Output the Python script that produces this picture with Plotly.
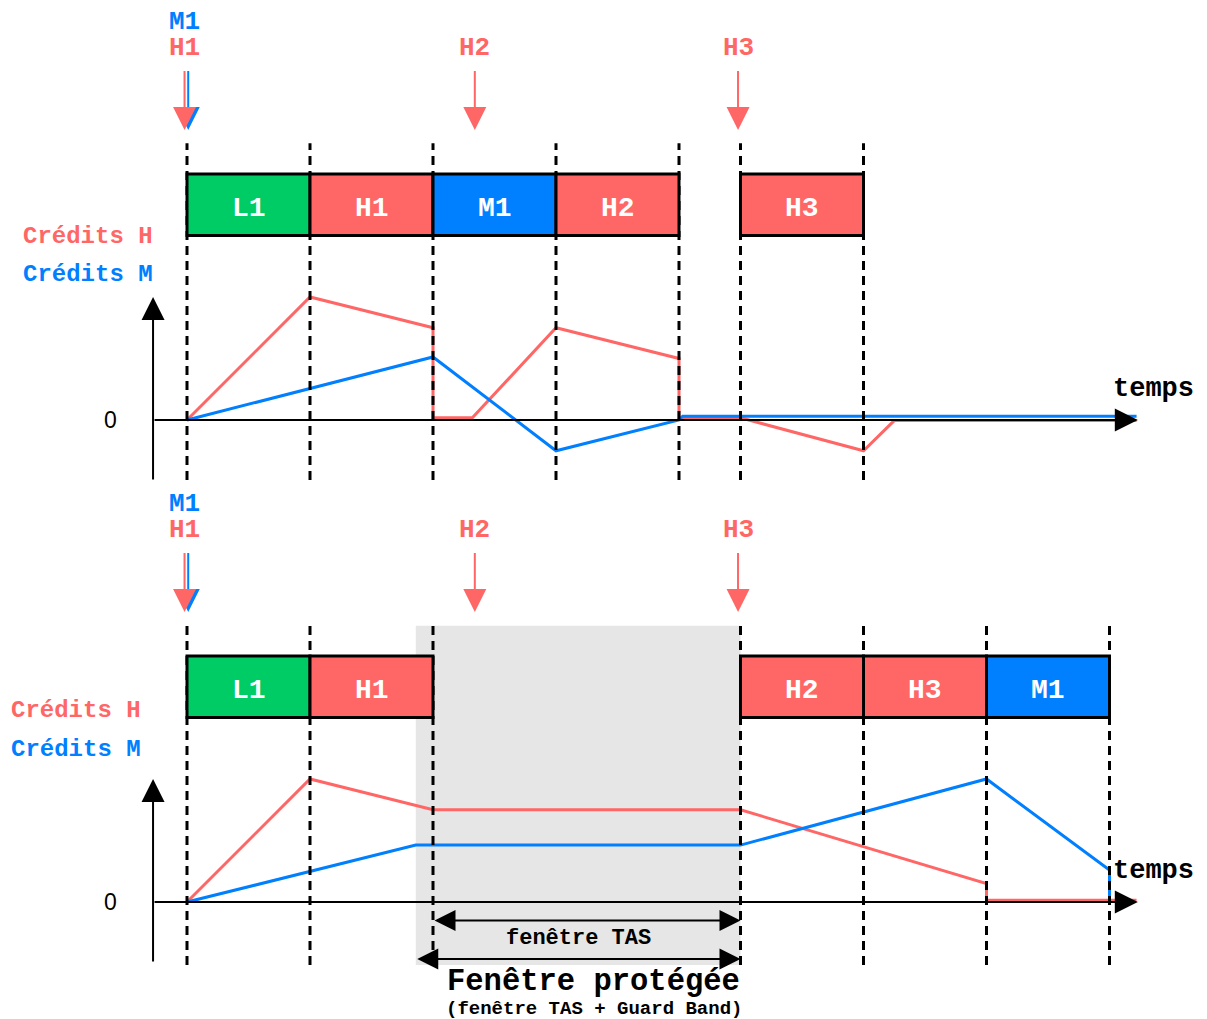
import plotly.graph_objects as go

# ---------------- data ----------------
# time in slot units (t=0 : first slot start), credits in arbitrary units
top_slot_labels = ["L1", "H1", "M1", "H2", "H3"]
top_slot_start = [0, 1, 2, 3, 4.5]
top_slot_end = [1, 2, 3, 4, 5.5]
top_slot_class = ["L", "H", "M", "H", "H"]
top_boundaries = [0, 1, 2, 3, 4, 4.5, 5.5]

bot_slot_labels = ["L1", "H1", "H2", "H3", "M1"]
bot_slot_start = [0, 1, 4.5, 5.5, 6.5]
bot_slot_end = [1, 2, 5.5, 6.5, 7.5]
bot_slot_class = ["L", "H", "H", "H", "M"]
bot_boundaries = [0, 1, 2, 4.5, 5.5, 6.5, 7.5]

# arrivals (frame arrival time)
arr_h_labels = ["H1", "H2", "H3"]
arr_h_t = [-0.02, 2.34, 4.48]
arr_m_labels = ["M1"]
arr_m_t = [0.01]

# credits, top scenario
top_h_t = [0, 1, 2, 2, 2.32, 3, 4, 4, 4.5, 5.5, 5.75, 7.72]
top_h_v = [0, 4, 3, 0.07, 0.07, 3, 2, 0.07, 0.07, -1, -0.02, -0.02]
top_m_t = [0, 2, 3, 4, 4.03, 7.72]
top_m_v = [0, 2.05, -1, 0.0, 0.12, 0.12]

# credits, bottom scenario
bot_h_t = [0, 1, 2, 4.5, 6.5, 6.5, 7.72]
bot_h_v = [0, 4, 3, 3, 0.6, 0.06, 0.06]
bot_m_t = [0, 1.86, 4.5, 6.5, 7.5, 7.5]
bot_m_v = [0, 1.85, 1.85, 4, 1.04, 0.05]

# protected window (guard band + TAS window)
guard_start = 1.86
tas_start = 2
tas_end = 4.5

# ---------------- layout constants ----------------
W, H = 1207, 1019
PX_PER_T = 123.0
T0_PX = 187.0
PX_PER_U = 30.75
ZERO_TOP_PX = 420.0
ZERO_BOT_PX = 902.0

RED = "#FF6666"
BLUE = "#007FFF"
GREEN = "#00CC66"
GREY = "#E6E6E6"
MONO = "Courier New, Liberation Mono, monospace"
SANS = "Arial, Liberation Sans, sans-serif"
CLASS_COLOR = {"L": GREEN, "H": RED, "M": BLUE}
HEAD = dict(arrowhead=2, arrowsize=2.3, arrowwidth=2, standoff=0)

x_range = [-T0_PX / PX_PER_T, (W - T0_PX) / PX_PER_T]
span_u = H / PX_PER_U
y_top_range = [ZERO_TOP_PX / PX_PER_U - span_u, ZERO_TOP_PX / PX_PER_U]
y_bot_range = [ZERO_BOT_PX / PX_PER_U - span_u, ZERO_BOT_PX / PX_PER_U]

fig = go.Figure()

fig.add_trace(go.Scatter(x=top_h_t, y=top_h_v, mode="lines", line=dict(color=RED, width=3), yaxis="y", hoverinfo="skip"))
fig.add_trace(go.Scatter(x=top_m_t, y=top_m_v, mode="lines", line=dict(color=BLUE, width=3), yaxis="y", hoverinfo="skip"))
fig.add_trace(go.Scatter(x=bot_h_t, y=bot_h_v, mode="lines", line=dict(color=RED, width=3), yaxis="y2", hoverinfo="skip"))
fig.add_trace(go.Scatter(x=bot_m_t, y=bot_m_v, mode="lines", line=dict(color=BLUE, width=3), yaxis="y2", hoverinfo="skip"))

shapes = []
annotations = []

# grey protected window
shapes.append(dict(type="rect", xref="x", yref="y2", x0=guard_start, x1=tas_end, y0=-2.05, y1=8.98,
                   fillcolor=GREY, line=dict(width=0), layer="below"))


def panel(yref, boundaries, labels, starts, ends, classes, dash_top, dash_bot):
    for b in boundaries:
        shapes.append(dict(type="line", xref="x", yref=yref, x0=b, x1=b, y0=dash_bot, y1=dash_top,
                           line=dict(color="black", width=3, dash="9px,6px"), layer="above"))
    for lab, s, e, c in zip(labels, starts, ends, classes):
        shapes.append(dict(type="rect", xref="x", yref=yref, x0=s, x1=e, y0=6, y1=8,
                           fillcolor=CLASS_COLOR[c], line=dict(color="black", width=3), layer="above"))
        annotations.append(dict(x=(s + e) / 2, y=6.87, xref="x", yref=yref, text="<b>%s</b>" % lab,
                                showarrow=False, font=dict(family=MONO, size=28, color="white")))
    # axes arrows
    annotations.append(dict(x=7.73, y=0, ax=-0.276, ay=0, xref="x", yref=yref, axref="x", ayref=yref,
                            text="", showarrow=True, arrowcolor="black", **HEAD))
    annotations.append(dict(x=-0.276, y=4.0, ax=-0.276, ay=-1.98, xref="x", yref=yref, axref="x", ayref=yref,
                            text="", showarrow=True, arrowcolor="black", **HEAD))
    annotations.append(dict(x=-0.626, y=0, xref="x", yref=yref, text="0", showarrow=False,
                            font=dict(family=SANS, size=23, color="black")))
    annotations.append(dict(x=7.86, y=1.0, xref="x", yref=yref, text="<b>temps</b>", showarrow=False,
                            font=dict(family=MONO, size=27, color="black")))
    # arrivals
    for lab, t in zip(arr_m_labels, arr_m_t):
        annotations.append(dict(x=t, y=9.43, ax=t, ay=11.4, xref="x", yref=yref, axref="x", ayref=yref,
                                text="", showarrow=True, arrowcolor=BLUE, **HEAD))
        annotations.append(dict(x=-0.02, y=12.95, xref="x", yref=yref, text="<b>%s</b>" % lab, showarrow=False,
                                font=dict(family=MONO, size=26, color=BLUE)))
    for lab, t in zip(arr_h_labels, arr_h_t):
        annotations.append(dict(x=t, y=9.43, ax=t, ay=11.4, xref="x", yref=yref, axref="x", ayref=yref,
                                text="", showarrow=True, arrowcolor=RED, **HEAD))
        annotations.append(dict(x=t, y=12.1, xref="x", yref=yref, text="<b>%s</b>" % lab, showarrow=False,
                                font=dict(family=MONO, size=26, color=RED)))


panel("y", top_boundaries, top_slot_labels, top_slot_start, top_slot_end, top_slot_class, 9.0, -1.95)
panel("y2", bot_boundaries, bot_slot_labels, bot_slot_start, bot_slot_end, bot_slot_class, 8.98, -2.05)

# credit labels
annotations.append(dict(x=-0.26, y=5.96, xref="x", yref="y", xanchor="right", text="<b>Crédits H</b>",
                        showarrow=False, font=dict(family=MONO, size=24, color=RED)))
annotations.append(dict(x=-0.26, y=4.74, xref="x", yref="y", xanchor="right", text="<b>Crédits M</b>",
                        showarrow=False, font=dict(family=MONO, size=24, color=BLUE)))
annotations.append(dict(x=-0.36, y=6.22, xref="x", yref="y2", xanchor="right", text="<b>Crédits H</b>",
                        showarrow=False, font=dict(family=MONO, size=24, color=RED)))
annotations.append(dict(x=-0.36, y=4.97, xref="x", yref="y2", xanchor="right", text="<b>Crédits M</b>",
                        showarrow=False, font=dict(family=MONO, size=24, color=BLUE)))

# TAS window & protected window
annotations.append(dict(x=tas_end, y=-0.6, ax=tas_start, ay=-0.6, xref="x", yref="y2", axref="x", ayref="y2",
                        text="", showarrow=True, arrowhead=2, startarrowhead=2, arrowside="end+start",
                        arrowsize=2.1, startarrowsize=2.1, arrowwidth=2, arrowcolor="black",
                        standoff=0, startstandoff=0))
annotations.append(dict(x=3.18, y=-1.2, xref="x", yref="y2", text="<b>fenêtre TAS</b>", showarrow=False,
                        font=dict(family=MONO, size=22, color="black")))
annotations.append(dict(x=tas_end, y=-1.85, ax=guard_start, ay=-1.85, xref="x", yref="y2", axref="x", ayref="y2",
                        text="", showarrow=True, arrowhead=2, startarrowhead=2, arrowside="end+start",
                        arrowsize=2.1, startarrowsize=2.1, arrowwidth=2, arrowcolor="black",
                        standoff=0, startstandoff=0))
annotations.append(dict(x=3.305, y=-2.6, xref="x", yref="y2", text="<b>Fenêtre protégée</b>", showarrow=False,
                        font=dict(family=MONO, size=30.5, color="black")))
annotations.append(dict(x=3.305, y=-3.48, xref="x", yref="y2", text="<b>(fenêtre TAS + Guard Band)</b>",
                        showarrow=False, font=dict(family=MONO, size=19, color="black")))

fig.update_layout(
    width=W, height=H,
    margin=dict(l=0, r=0, t=0, b=0),
    paper_bgcolor="white", plot_bgcolor="white",
    showlegend=False,
    xaxis=dict(range=x_range, visible=False, fixedrange=True),
    yaxis=dict(range=y_top_range, visible=False, fixedrange=True),
    yaxis2=dict(range=y_bot_range, visible=False, overlaying="y", fixedrange=True),
    shapes=shapes,
    annotations=annotations,
)

fig.write_html("out.html", config={"displayModeBar": False, "staticPlot": True},
               post_script="document.body.style.margin='0px';document.body.style.overflow='hidden';")
